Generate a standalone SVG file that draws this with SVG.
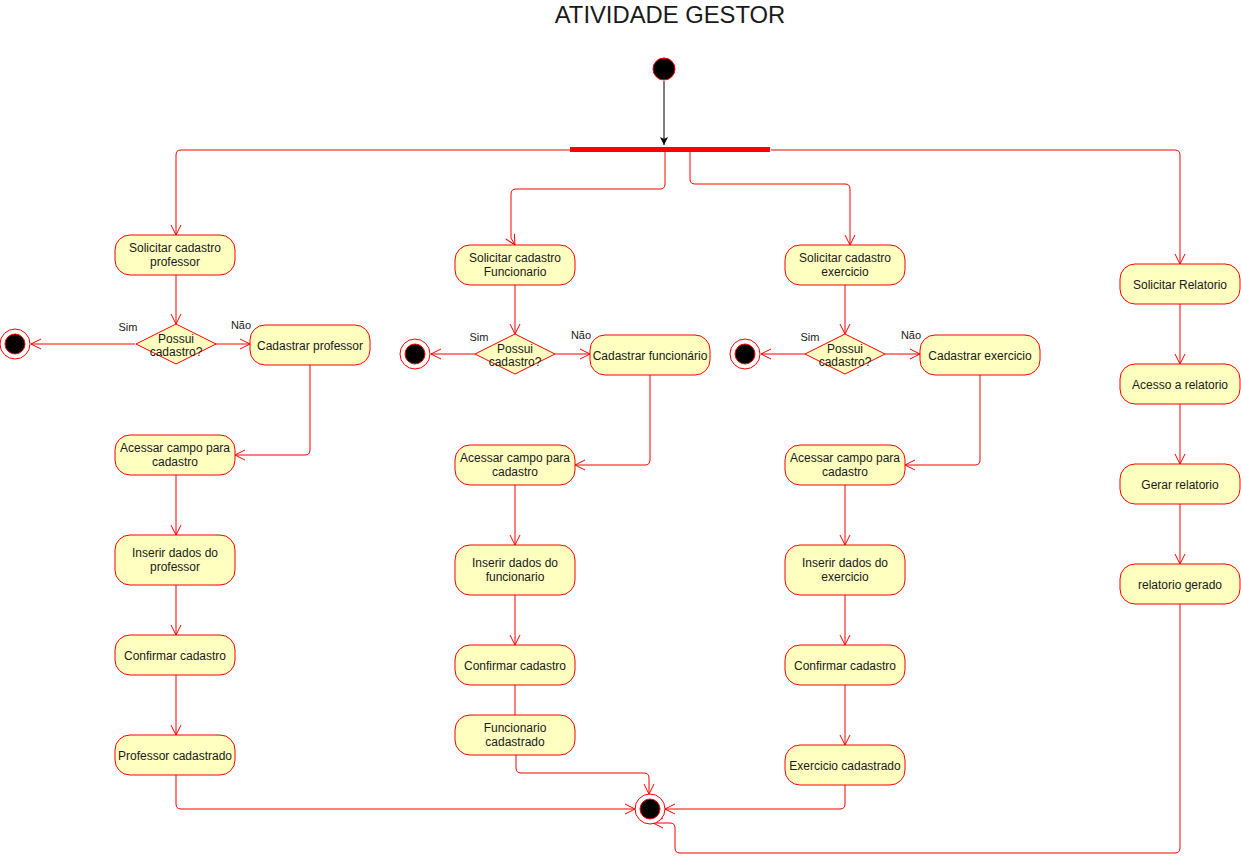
<svg xmlns="http://www.w3.org/2000/svg" width="1241" height="865" viewBox="0 0 1241 865">
<defs>
<marker id="arr" markerUnits="userSpaceOnUse" markerWidth="12" markerHeight="12" refX="10" refY="5" orient="auto" viewBox="-1 -1 12 12">
<path d="M0,0 L10,5 L0,10" fill="none" stroke="#ff0000" stroke-width="1"/>
</marker>
<marker id="arrb" markerUnits="userSpaceOnUse" markerWidth="10" markerHeight="10" refX="8" refY="4" orient="auto" viewBox="0 0 10 8">
<path d="M0,0 L8,4 L0,8 L2,4 Z" fill="#000"/>
</marker>
</defs>
<style>
.act{fill:#ffffc0;stroke:#ff0000;stroke-width:1}
.t{font-family:"Liberation Sans",Arial,sans-serif;font-size:12px;fill:#1a1a1a;text-anchor:middle}
.lbl{font-family:"Liberation Sans",Arial,sans-serif;font-size:11px;fill:#1a1a1a;text-anchor:middle}
.c{fill:none;stroke:#ff0000;stroke-width:1;marker-end:url(#arr)}
.cn{fill:none;stroke:#ff0000;stroke-width:1}
.fo{fill:#fff;stroke:#ff0000;stroke-width:1}
.fi{fill:#000;stroke:#ff0000;stroke-width:1}
</style>
<rect width="1241" height="865" fill="#fff"/>
<text x="670" y="23" font-family="Liberation Sans,Arial,sans-serif" font-size="23.8" fill="#1a1a1a" text-anchor="middle">ATIVIDADE GESTOR</text>

<g id="connectors">
<path d="M664,81 V145" fill="none" stroke="#000" stroke-width="1" marker-end="url(#arrb)"/>
<path class="c" d="M570,150 H181 Q176,150 176,155 V235"/>
<path class="c" d="M665,152 V184 Q665,189 660,189 H516 Q511,189 511,194 V238 L515,245"/>
<path class="c" d="M690,152 V179 Q690,184 695,184 H845 Q850,184 850,189 V245"/>
<path class="c" d="M771,150 H1175 Q1180,150 1180,155 V264"/>

<path class="c" d="M176,275 V324"/>
<path class="c" d="M135,344 H31"/>
<path class="c" d="M215,344 H250"/>
<path class="c" d="M310,365 V450 Q310,455 305,455 H235"/>
<path class="c" d="M176,475 V535"/>
<path class="c" d="M176,585 V635"/>
<path class="c" d="M176,675 V735"/>
<path class="c" d="M176,775 V804 Q176,809 181,809 H635"/>

<path class="c" d="M515,285 V334"/>
<path class="c" d="M475,354 H431"/>
<path class="c" d="M555,354 H590"/>
<path class="c" d="M650,375 V460 Q650,465 645,465 H575"/>
<path class="c" d="M515,485 V545"/>
<path class="c" d="M515,595 V645"/>
<path class="cn" d="M515,685 V715"/>
<path class="c" d="M516,755 V768 Q516,773 521,773 H644 Q649,773 649,778 V794"/>

<path class="c" d="M845,285 V334"/>
<path class="c" d="M805,354 H761"/>
<path class="c" d="M885,354 H920"/>
<path class="c" d="M980,375 V460 Q980,465 975,465 H905"/>
<path class="c" d="M845,485 V545"/>
<path class="c" d="M845,595 V645"/>
<path class="c" d="M845,685 V745"/>
<path class="c" d="M845,785 V804 Q845,809 840,809 H665"/>

<path class="c" d="M1180,304 V364"/>
<path class="c" d="M1180,404 V464"/>
<path class="c" d="M1180,504 V564"/>
<path class="c" d="M1180,604 V848 Q1180,853 1175,853 H680 Q675,853 675,848 V828 Q675,823 670,823 H653"/>
</g>

<g id="start"><circle cx="664" cy="69" r="11" fill="#000" stroke="#ff0000" stroke-width="1"/></g>
<g id="fork"><rect x="570" y="147" width="200" height="5" fill="#ff0000"/></g>

<g id="sol_prof"><rect class="act" x="115" y="235" width="120" height="40" rx="15"/><text class="t" x="175" y="252">Solicitar cadastro</text><text class="t" x="175" y="266">professor</text></g>
<g id="dec_prof"><polygon class="act" points="176,324 216,344 176,364 136,344"/><text class="t" x="176" y="343">Possui</text><text class="t" x="176" y="356">cadastro?</text><text class="lbl" x="128" y="331">Sim</text><text class="lbl" x="241" y="329">Não</text></g>
<g id="end_prof"><circle class="fo" cx="15" cy="344" r="15"/><circle class="fi" cx="15" cy="344" r="10"/></g>
<g id="cad_prof"><rect class="act" x="250" y="325" width="120" height="40" rx="15"/><text class="t" x="310" y="350">Cadastrar professor</text></g>
<g id="ace_prof"><rect class="act" x="115" y="435" width="120" height="40" rx="15"/><text class="t" x="175" y="452">Acessar campo para</text><text class="t" x="175" y="466">cadastro</text></g>
<g id="ins_prof"><rect class="act" x="115" y="535" width="120" height="50" rx="15"/><text class="t" x="175" y="557">Inserir dados do</text><text class="t" x="175" y="571">professor</text></g>
<g id="conf_prof"><rect class="act" x="115" y="635" width="120" height="40" rx="15"/><text class="t" x="175" y="660">Confirmar cadastro</text></g>
<g id="fim_prof"><rect class="act" x="115" y="735" width="120" height="40" rx="15"/><text class="t" x="175" y="760">Professor cadastrado</text></g>

<g id="sol_func"><rect class="act" x="455" y="245" width="120" height="40" rx="15"/><text class="t" x="515" y="262">Solicitar cadastro</text><text class="t" x="515" y="276">Funcionario</text></g>
<g id="dec_func"><polygon class="act" points="515,334 555,354 515,374 475,354"/><text class="t" x="515" y="353">Possui</text><text class="t" x="515" y="366">cadastro?</text><text class="lbl" x="479" y="341">Sim</text><text class="lbl" x="581" y="339">Não</text></g>
<g id="end_func"><circle class="fo" cx="415" cy="354" r="15"/><circle class="fi" cx="415" cy="354" r="10"/></g>
<g id="cad_func"><rect class="act" x="590" y="335" width="120" height="40" rx="15"/><text class="t" x="650" y="360">Cadastrar funcionário</text></g>
<g id="ace_func"><rect class="act" x="455" y="445" width="120" height="40" rx="15"/><text class="t" x="515" y="462">Acessar campo para</text><text class="t" x="515" y="476">cadastro</text></g>
<g id="ins_func"><rect class="act" x="455" y="545" width="120" height="50" rx="15"/><text class="t" x="515" y="567">Inserir dados do</text><text class="t" x="515" y="581">funcionario</text></g>
<g id="conf_func"><rect class="act" x="455" y="645" width="120" height="40" rx="15"/><text class="t" x="515" y="670">Confirmar cadastro</text></g>
<g id="fim_func"><rect class="act" x="455" y="715" width="120" height="40" rx="15"/><text class="t" x="515" y="732">Funcionario</text><text class="t" x="515" y="746">cadastrado</text></g>

<g id="sol_exe"><rect class="act" x="785" y="245" width="120" height="40" rx="15"/><text class="t" x="845" y="262">Solicitar cadastro</text><text class="t" x="845" y="276">exercicio</text></g>
<g id="dec_exe"><polygon class="act" points="845,334 885,354 845,374 805,354"/><text class="t" x="845" y="353">Possui</text><text class="t" x="845" y="366">cadastro?</text><text class="lbl" x="810" y="341">Sim</text><text class="lbl" x="911" y="339">Não</text></g>
<g id="end_exe"><circle class="fo" cx="745" cy="354" r="15"/><circle class="fi" cx="745" cy="354" r="10"/></g>
<g id="cad_exe"><rect class="act" x="920" y="335" width="120" height="40" rx="15"/><text class="t" x="980" y="360">Cadastrar exercicio</text></g>
<g id="ace_exe"><rect class="act" x="785" y="445" width="120" height="40" rx="15"/><text class="t" x="845" y="462">Acessar campo para</text><text class="t" x="845" y="476">cadastro</text></g>
<g id="ins_exe"><rect class="act" x="785" y="545" width="120" height="50" rx="15"/><text class="t" x="845" y="567">Inserir dados do</text><text class="t" x="845" y="581">exercicio</text></g>
<g id="conf_exe"><rect class="act" x="785" y="645" width="120" height="40" rx="15"/><text class="t" x="845" y="670">Confirmar cadastro</text></g>
<g id="fim_exe"><rect class="act" x="785" y="745" width="120" height="40" rx="15"/><text class="t" x="845" y="770">Exercicio cadastrado</text></g>

<g id="sol_rel"><rect class="act" x="1120" y="264" width="120" height="40" rx="15"/><text class="t" x="1180" y="289">Solicitar Relatorio</text></g>
<g id="ace_rel"><rect class="act" x="1120" y="364" width="120" height="40" rx="15"/><text class="t" x="1180" y="389">Acesso a relatorio</text></g>
<g id="ger_rel"><rect class="act" x="1120" y="464" width="120" height="40" rx="15"/><text class="t" x="1180" y="489">Gerar relatorio</text></g>
<g id="fim_rel"><rect class="act" x="1120" y="564" width="120" height="40" rx="15"/><text class="t" x="1180" y="589">relatorio gerado</text></g>

<g id="end_main"><circle class="fo" cx="650" cy="809" r="15"/><circle class="fi" cx="650" cy="809" r="10"/></g>
</svg>
